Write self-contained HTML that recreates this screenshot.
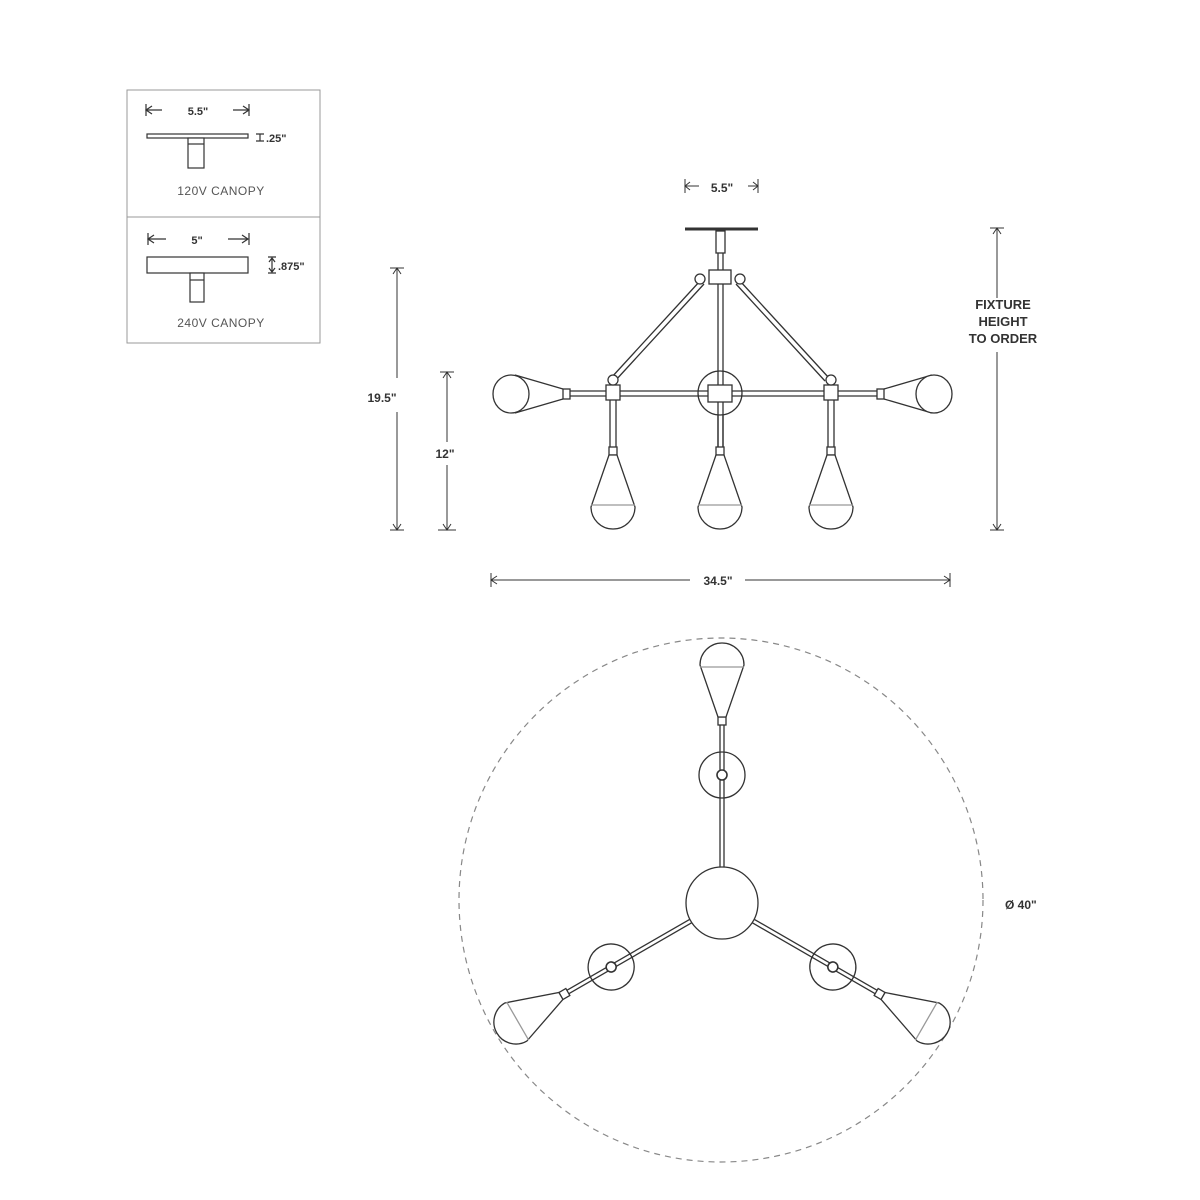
<!DOCTYPE html>
<html><head><meta charset="utf-8"><style>
html,body{margin:0;padding:0;background:#fff;}
svg{display:block;}
text{font-family:"Liberation Sans",sans-serif;fill:#333;}
.b{font-weight:bold;}
</style></head><body>
<svg width="1200" height="1200" viewBox="0 0 1200 1200" xmlns="http://www.w3.org/2000/svg">
<defs>
<g id="pend" fill="#fff" stroke="#333" stroke-width="1.3">
  <rect x="-4" y="0" width="8" height="8"/>
  <path d="M-4 8 L-22 60 A22 22 0 0 0 22 60 L4 8 Z"/>
  <line x1="-22" y1="58" x2="22" y2="58" stroke="#999"/>
</g>
<g id="arm" fill="#fff" stroke="#333" stroke-width="1.3">
  <circle cx="0" cy="-128" r="23"/>
  <line x1="-2" y1="-180" x2="-2" y2="-35"/><line x1="2" y1="-180" x2="2" y2="-35"/>
  <circle cx="0" cy="-128" r="5" stroke-width="1.6"/>
  <g transform="translate(0,-178) scale(1,-1)"><use href="#pend"/></g>
</g>
</defs>

<!-- canopy box -->
<g stroke="#999" fill="none" stroke-width="1">
  <rect x="127" y="90" width="193" height="253"/>
  <line x1="127" y1="217" x2="320" y2="217"/>
</g>
<g stroke="#333" fill="#fff" stroke-width="1.2">
  <rect x="147" y="134" width="101" height="4"/>
  <rect x="188" y="138" width="16" height="30"/>
  <line x1="188" y1="144" x2="204" y2="144"/>
  <rect x="147" y="257" width="101" height="16"/>
  <rect x="190" y="273" width="14" height="29"/>
  <line x1="190" y1="280" x2="204" y2="280"/>
  <path d="M146 104v12M146 110h16M152 106l-6 4 6 4"/>
  <path d="M249 104v12M249 110h-16M243 106l6 4-6 4"/>
  <path d="M148 233v12M148 239h18M154 235l-6 4 6 4M228 239h20M242 235l6 4-6 4M249 233v12"/>
  <path d="M256 134h8M256 141h8M260 134v7"/>
  <path d="M268 257h8M268 273h8M272 258v14M269 262l3-4 3 4M269 268l3 4 3-4"/>
</g>
<text x="198" y="115" font-size="11" text-anchor="middle" class="b">5.5"</text>
<text x="266" y="142" font-size="11" class="b">.25"</text>
<text x="221" y="195" font-size="12" text-anchor="middle" fill="#555" style="fill:#555;letter-spacing:0.5px">120V CANOPY</text>
<text x="197" y="244" font-size="11" text-anchor="middle" class="b">5"</text>
<text x="278" y="270" font-size="11" class="b">.875"</text>
<text x="221" y="327" font-size="12" text-anchor="middle" style="fill:#555;letter-spacing:0.5px">240V CANOPY</text>

<!-- front view -->
<g stroke="#333" fill="#fff" stroke-width="1.3">
  <line x1="685" y1="229" x2="758" y2="229" stroke-width="3"/>
  <rect x="716" y="231" width="9" height="22"/>
  <line x1="718" y1="253" x2="718" y2="447"/><line x1="723" y1="253" x2="723" y2="447"/>
  <path d="M700 281 L611 378 M704 284 L615 381"/>
  <path d="M740 281 L829 378 M736 284 L825 381"/>
  <circle cx="720" cy="393" r="22"/>
  <line x1="718" y1="371" x2="718" y2="447"/><line x1="723" y1="371" x2="723" y2="447"/>
  <line x1="570" y1="391" x2="877" y2="391"/><line x1="570" y1="396" x2="877" y2="396"/>
  <rect x="709" y="270" width="22" height="14"/>
  <circle cx="700" cy="279" r="5"/><circle cx="740" cy="279" r="5"/>
  <rect x="708" y="385" width="24" height="17"/>
  <rect x="606" y="385" width="14" height="15"/><circle cx="613" cy="380" r="5"/>
  <rect x="824" y="385" width="14" height="15"/><circle cx="831" cy="380" r="5"/>
  <path d="M610 400v47M616 400v47M828 400v47M834 400v47"/>
  <rect x="563" y="389" width="7" height="10"/>
  <path d="M563 389 L515 375 M563 399 L515 413"/>
  <ellipse cx="511" cy="394" rx="18" ry="19"/>
  <rect x="877" y="389" width="7" height="10"/>
  <path d="M884 389 L932 375 M884 399 L932 413"/>
  <ellipse cx="934" cy="394" rx="18" ry="19"/>
</g>
<use href="#pend" transform="translate(613,447)"/>
<use href="#pend" transform="translate(720,447)"/>
<use href="#pend" transform="translate(831,447)"/>

<!-- dimensions -->
<g stroke="#333" fill="none" stroke-width="1">
  <path d="M685 179v14M685 186h14M690 182l-5 4 5 4M758 179v14M758 186h-10M753 182l5 4-5 4"/>
  <path d="M390 268h14M397 268v110M393 274l4-6 4 6M397 412v118M393 524l4 6 4-6M390 530h14"/>
  <path d="M440 372h14M447 372v70M443 378l4-6 4 6M447 465v65M443 524l4 6 4-6M438 530h18"/>
  <path d="M990 228h14M997 228v70M993 234l4-6 4 6M997 352v178M993 524l4 6 4-6M990 530h14"/>
  <path d="M491 573v14M491 580h199M497 576l-6 4 6 4M745 580h205M944 576l6 4-6 4M950 573v14"/>
</g>
<text x="722" y="192" font-size="12" text-anchor="middle" class="b">5.5"</text>
<text x="382" y="402" font-size="12" text-anchor="middle" class="b">19.5"</text>
<text x="445" y="458" font-size="12" text-anchor="middle" class="b">12"</text>
<text x="718" y="585" font-size="12" text-anchor="middle" class="b">34.5"</text>
<text x="1003" y="309" font-size="13" text-anchor="middle" class="b">FIXTURE</text>
<text x="1003" y="326" font-size="13" text-anchor="middle" class="b">HEIGHT</text>
<text x="1003" y="343" font-size="13" text-anchor="middle" class="b">TO ORDER</text>

<!-- plan view -->
<circle cx="721" cy="900" r="262" fill="none" stroke="#888" stroke-width="1.2" stroke-dasharray="6 5"/>
<g transform="translate(722,903)">
  <use href="#arm"/>
  <use href="#arm" transform="rotate(-120)"/>
  <use href="#arm" transform="rotate(120)"/>
  <circle cx="0" cy="0" r="36" fill="#fff" stroke="#333" stroke-width="1.3"/>
</g>
<text x="1005" y="909" font-size="12" class="b">Ø 40"</text>
</svg>
</body></html>
